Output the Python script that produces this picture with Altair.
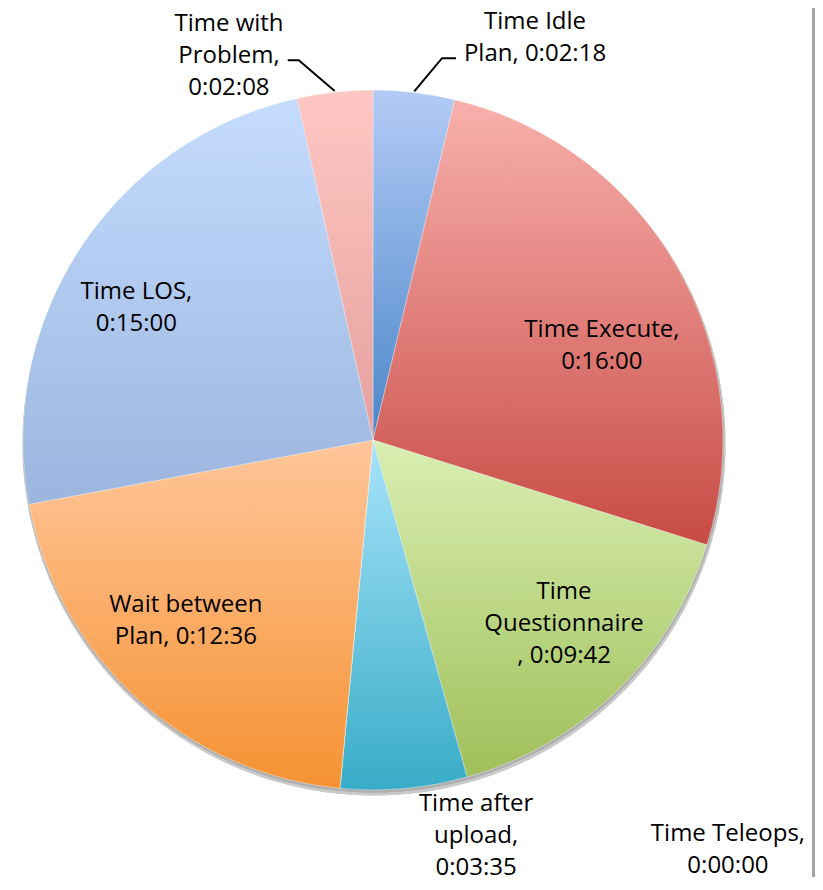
import math
import altair as alt
import pandas as pd

# ---------------- data ----------------
categories = [
    "Time Idle Plan",
    "Time Execute",
    "Time Questionnaire",
    "Time after upload",
    "Time Teleops",
    "Wait between Plan",
    "Time LOS",
    "Time with Problem",
]
durations = ["0:02:18", "0:16:00", "0:09:42", "0:03:35", "0:00:00", "0:12:36", "0:15:00", "0:02:08"]
label_lines = [
    ["Time Idle", "Plan, 0:02:18"],
    ["Time Execute,", "0:16:00"],
    ["Time", "Questionnaire", ", 0:09:42"],
    ["Time after", "upload,", "0:03:35"],
    ["Time Teleops,", "0:00:00"],
    ["Wait between", "Plan, 0:12:36"],
    ["Time LOS,", "0:15:00"],
    ["Time with", "Problem,", "0:02:08"],
]

# ---------------- style / layout ----------------
W, H = 730, 864
R = 350
FONT = "Open Sans"
FS, LH = 24, 32
gradients = {
    "Time Idle Plan": ("#b3cbf6", "#4a86c8"),
    "Time Execute": ("#f8b0ac", "#c84b45"),
    "Time Questionnaire": ("#d9efb2", "#a0bf5a"),
    "Time after upload": ("#a8e4fa", "#38acc7"),
    "Time Teleops": ("#e0e0e0", "#a0a0a0"),
    "Wait between Plan": ("#ffc69a", "#f59232"),
    "Time LOS": ("#c5dcfe", "#9bb5de"),
    "Time with Problem": ("#ffc7c3", "#e4a09e"),
}
# label block placement: (angle offset from slice middle deg, radius factor, vertical nudge px)
label_layout = {
    "Time Idle Plan": (15.0, 1.249, 2),
    "Time Execute": (6.8, 0.709, 0),
    "Time Questionnaire": (-2.3, 0.754, 0),
    "Time after upload": (-9.2, 1.194, -11),
    "Time Teleops": (-45.7, 1.569, -11),
    "Wait between Plan": (3.85, 0.740, 0),
    "Time LOS": (-3.9, 0.777, 0),
    "Time with Problem": (-14.2, 1.177, 0),
}
# leader lines: (elbow angle offset deg, elbow radius, horizontal run px)
leaders = {
    "Time Idle Plan": (3.5, 388, 14),
    "Time with Problem": (-4.8, 387, -11),
}


def to_seconds(s):
    h, m, sec = (int(p) for p in s.split(":"))
    return h * 3600 + m * 60 + sec


seconds = [to_seconds(d) for d in durations]
total = sum(seconds)

df = pd.DataFrame({
    "idx": list(range(len(categories))),
    "category": categories,
    "seconds": seconds,
})

# label positions derived from the slice mid-angles
cum = 0
lab_rows = []
mids = {}
for c, s, lines in zip(categories, seconds, label_lines):
    mid = (cum + s / 2) / total * 2 * math.pi
    mids[c] = mid
    cum += s
    off, rf, nudge = label_layout[c]
    a = mid + math.radians(off)
    r = rf * R
    # block centre -> first-line anchor (Vega anchors the first line)
    dx = r * math.sin(a)
    dy = -r * math.cos(a) - (len(lines) - 1) * LH / 2 + 2 + nudge
    lab_rows.append({
        "category": c,
        "label": "\n".join(lines),
        "theta": math.atan2(dx, -dy),
        "radius": math.hypot(dx, dy),
    })
labels_df = pd.DataFrame(lab_rows)

cx, cy = W / 2, H / 2
lead_rows = []
for c, (aoff, er, run) in leaders.items():
    m = mids[c]
    p1 = (cx + (R + 1) * math.sin(m), cy - (R + 1) * math.cos(m))
    e = m + math.radians(aoff)
    p2 = (cx + er * math.sin(e), cy - er * math.cos(e))
    p3 = (p2[0] + run, p2[1])
    for k, (x, y) in enumerate([p1, p2, p3]):
        lead_rows.append({"category": c, "k": k, "x": x, "y": y})
lead_df = pd.DataFrame(lead_rows)


def grad(c):
    top, bot = gradients[c]
    return {
        "gradient": "linear",
        "x1": 0, "y1": 0, "x2": 0, "y2": 1,
        "stops": [{"offset": 0, "color": top}, {"offset": 1, "color": bot}],
    }


conds = [{"test": f"datum.category === '{c}'", "value": grad(c)} for c in categories[:-1]]
fill_enc = alt.value(grad(categories[-1]), condition=conds)

base = alt.Chart(df)

shadow1 = base.mark_arc(outerRadius=R + 1.5, yOffset=4, xOffset=1, fill="#c8c8c8", opacity=0.35).encode(
    theta=alt.value(0), theta2=alt.value(2 * math.pi)
)
shadow2 = base.mark_arc(outerRadius=R + 0.5, yOffset=2, xOffset=0.5, fill="#b0b0b0", opacity=0.45).encode(
    theta=alt.value(0), theta2=alt.value(2 * math.pi)
)

pie = base.mark_arc(outerRadius=R, stroke="#ffffff", strokeWidth=0.6, strokeOpacity=0.6).encode(
    theta=alt.Theta("seconds:Q", stack=True),
    order=alt.Order("idx:Q", sort="ascending"),
    fill=fill_enc,
)

texts = alt.Chart(labels_df).mark_text(
    font=FONT, fontSize=FS, lineHeight=LH, lineBreak="\n",
    align="center", baseline="middle", color="#000000",
).encode(
    theta=alt.Theta("theta:Q", scale=None, stack=False),
    radius=alt.Radius("radius:Q", scale=None),
    text="label:N",
)

lead = alt.Chart(lead_df).mark_line(color="#000000", strokeWidth=2).encode(
    x=alt.X("x:Q", scale=None, axis=None),
    y=alt.Y("y:Q", scale=None, axis=None),
    detail="category:N",
    order="k:Q",
)

border = alt.Chart(df).mark_rule(color="#a3a3a3", strokeWidth=2.5).encode(
    x=alt.value(805.5), y=alt.value(-10), y2=alt.value(H + 20)
)

chart = alt.layer(shadow1, shadow2, pie, lead, texts, border).properties(
    width=W, height=H,
    autosize="none",
    padding={"left": 0, "top": 0, "right": 77, "bottom": 5},
).configure_view(stroke=None)

chart.save("out.html", embed_options={"renderer": "svg", "actions": False})
